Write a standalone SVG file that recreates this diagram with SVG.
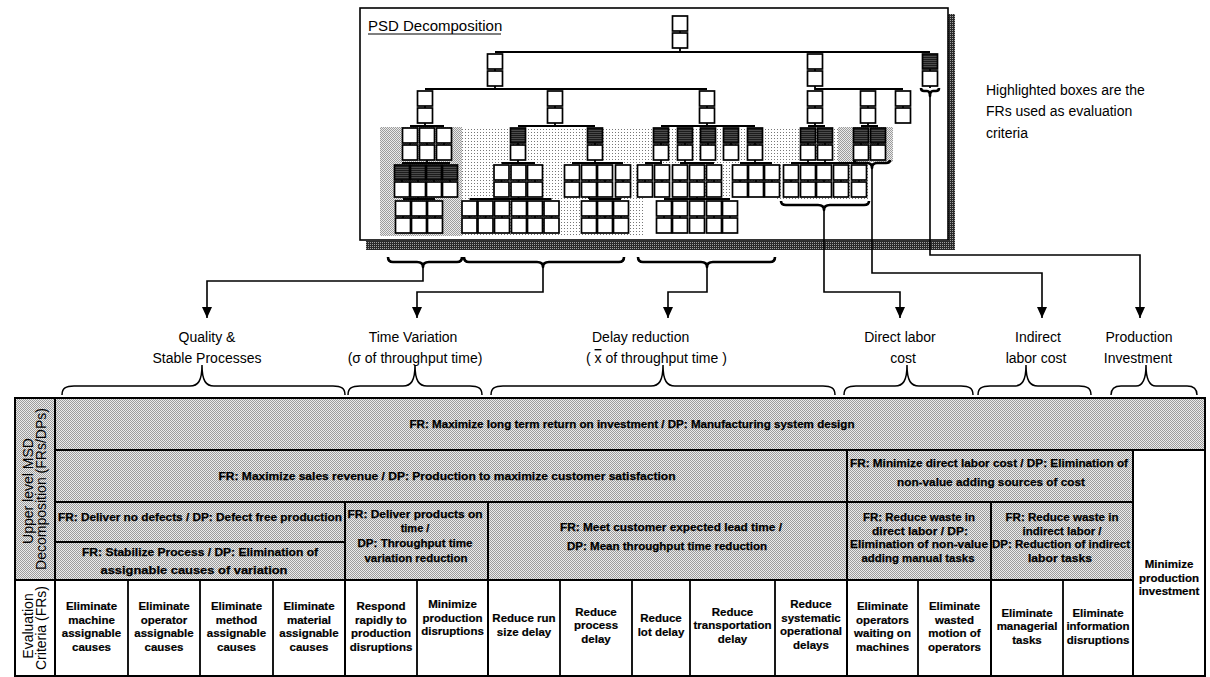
<svg xmlns="http://www.w3.org/2000/svg" width="1210" height="677" viewBox="0 0 1210 677">
<defs>
<style>
text{font-family:"Liberation Sans",Arial,Helvetica,sans-serif;fill:#000}
.lb{font-size:14px}
.ct{text-anchor:middle}
.tb{font-size:11px;font-weight:bold;text-anchor:middle;stroke:#000;stroke-width:0.25}
.ev{font-size:11.5px;font-weight:bold;text-anchor:middle;stroke:#000;stroke-width:0.2}
.bx{fill:#fff;stroke:#000;stroke-width:1.7}
.dk{fill:url(#pDark);stroke:#000;stroke-width:1.7}
.lk{fill:none;stroke:#000;stroke-width:1.8}
.br{fill:none;stroke:#000;stroke-width:2.6;stroke-linejoin:round}
.cn{fill:none;stroke:#000;stroke-width:1.6;marker-end:url(#arr)}
.ub{fill:none;stroke:#000;stroke-width:1.5}
.tl{fill:none;stroke:#000;stroke-width:2}
.tt{fill:none;stroke:#000;stroke-width:1.8}
</style>
<pattern id="pDark" width="2" height="2" patternUnits="userSpaceOnUse"><rect width="2" height="2" fill="#1c1c1c"/><rect width="1" height="1" fill="#7a7a7a"/></pattern>
<pattern id="pGray" width="2" height="2" patternUnits="userSpaceOnUse"><rect width="2" height="2" fill="#ebebeb"/><rect width="1" height="1" fill="#9c9c9c"/><rect x="1" y="1" width="1" height="1" fill="#9c9c9c"/></pattern>
<pattern id="pDots" width="3" height="3" patternUnits="userSpaceOnUse"><rect width="1" height="1" fill="#777"/></pattern>
<pattern id="pShadow" width="2" height="2" patternUnits="userSpaceOnUse"><rect width="2" height="2" fill="#2a2a2a"/><rect width="1" height="1" fill="#a0a0a0"/></pattern>
<marker id="arr" markerUnits="userSpaceOnUse" markerWidth="11" markerHeight="10" refX="11" refY="5" orient="auto"><path d="M0 0L11 5L0 10z" fill="#000"/></marker>
<!-- stacked FR/DP box pair: white/white and highlighted/white -->
<g id="pw"><rect class="bx" x="0" y="0" width="15" height="15"/><rect class="bx" x="0" y="17" width="15" height="15"/><path class="lk" d="M7.5 15v2"/></g>
<g id="pd"><rect class="dk" x="0" y="0" width="15" height="15"/><rect class="bx" x="0" y="17" width="15" height="15"/><path class="lk" d="M7.5 15v2"/></g>
</defs>

<rect width="1210" height="677" fill="#fff"/>

<!-- PSD decomposition frame -->
<g id="psd-frame">
<rect x="366" y="241" width="589" height="9" fill="url(#pShadow)"/>
<rect x="948" y="14" width="7" height="236" fill="url(#pShadow)"/>
<rect x="360" y="8" width="588" height="232" fill="#fff" stroke="#000" stroke-width="1.6"/>
<text x="368" y="31" style="font-size:15px">PSD Decomposition</text>
<path d="M368 34H501" stroke="#000" stroke-width="1.2"/>
</g>

<!-- background tints behind lower levels -->
<g id="psd-tints">
<rect x="380" y="127" width="265" height="109" fill="url(#pDots)"/>
<rect x="628" y="127" width="172" height="71" fill="url(#pDots)"/>
<rect x="776" y="127" width="94" height="73" fill="url(#pDots)"/>
<rect x="380" y="127" width="82" height="109" fill="url(#pGray)"/>
<rect x="838" y="127" width="55" height="35" fill="url(#pGray)"/>
</g>

<!-- tree links -->
<g id="psd-links">
<path class="lk" d="M680 48V52M495 52H930M495 86V89M425 89H707M815 86V89H903M930 86V88"/>
<path class="lk" d="M425 123V126M410 126H444M555 123V126M518 126H595M707 123V126M661 126H755M815 123V126M808 126H825M868 123V126M861 126H878"/>
<path class="lk" d="M427 160V163M402 163H450M518 160V163M501.5 163H535M595 160V163M572 163H623M661 160V163M645 163H662M685 160V163M680 163H714M755 160V163M740 163H772M808 160V163M825 160V163M791 163H859"/>
<path class="lk" d="M418 197V199M403 199H435M518.5 197V199M469.5 199H551.5M589 197V199M589 199H621M697 197V199M664 199H730"/>
<path class="br" d="M781 201q0 4 5 4h32q6 0 6 5q0-5 6-5h34q5 0 5-4"/>
<path class="br" d="M854 160q0 3 4 3h9q5 0 5 5q0-5 5-5h9q4 0 4-3"/>
<path class="br" d="M921 88q0 3 3 3h3q3 0 3 5q0-5 3-5h3q3 0 3-3"/>
</g>

<!-- tree nodes -->
<g id="psd-root"><use href="#pw" x="672.5" y="16"/></g>
<g id="psd-level1">
<use href="#pw" x="487.5" y="54"/><use href="#pw" x="807.5" y="54"/><use href="#pd" x="922.5" y="54"/>
</g>
<g id="psd-level2">
<use href="#pw" x="417.5" y="91"/><use href="#pw" x="547.5" y="91"/><use href="#pw" x="699.5" y="91"/>
<use href="#pw" x="807.5" y="91"/><use href="#pw" x="860.5" y="91"/><use href="#pw" x="895.5" y="91"/>
</g>
<g id="psd-level3">
<use href="#pw" x="402.5" y="128"/><use href="#pw" x="419.5" y="128"/><use href="#pw" x="436.5" y="128"/>
<use href="#pd" x="510.5" y="128"/><use href="#pd" x="587.5" y="128"/>
<use href="#pd" x="653.5" y="128"/><use href="#pd" x="677.5" y="128"/><use href="#pd" x="700.5" y="128"/><use href="#pd" x="723.5" y="128"/><use href="#pd" x="747.5" y="128"/>
<use href="#pd" x="800.5" y="128"/><use href="#pd" x="817.5" y="128"/>
<use href="#pd" x="853.5" y="128"/><use href="#pd" x="870.5" y="128"/>
</g>
<g id="psd-level4">
<use href="#pd" x="394.5" y="165"/><use href="#pd" x="410.5" y="165"/><use href="#pd" x="426.5" y="165"/><use href="#pd" x="442.5" y="165"/>
<use href="#pw" x="494" y="165"/><use href="#pw" x="511" y="165"/><use href="#pw" x="527.5" y="165"/>
<use href="#pw" x="564.5" y="165"/><use href="#pw" x="581.5" y="165"/><use href="#pw" x="597.5" y="165"/><use href="#pw" x="615.5" y="165"/>
<use href="#pw" x="637.5" y="165"/><use href="#pw" x="654.5" y="165"/>
<use href="#pw" x="672.5" y="165"/><use href="#pw" x="689.5" y="165"/><use href="#pw" x="706.5" y="165"/>
<use href="#pw" x="732.5" y="165"/><use href="#pw" x="748.5" y="165"/><use href="#pw" x="764.5" y="165"/>
<use href="#pw" x="783.5" y="165"/><use href="#pw" x="800.5" y="165"/><use href="#pw" x="816.5" y="165"/><use href="#pw" x="833.5" y="165"/><use href="#pw" x="851.5" y="165"/>
</g>
<g id="psd-level5">
<use href="#pw" x="395.5" y="201"/><use href="#pw" x="411.5" y="201"/><use href="#pw" x="427.5" y="201"/>
<use href="#pw" x="462" y="201"/><use href="#pw" x="478" y="201"/><use href="#pw" x="494.5" y="201"/><use href="#pw" x="511.5" y="201"/><use href="#pw" x="527.5" y="201"/><use href="#pw" x="544" y="201"/>
<use href="#pw" x="581.5" y="201"/><use href="#pw" x="597.5" y="201"/><use href="#pw" x="613.5" y="201"/>
<use href="#pw" x="656.5" y="201"/><use href="#pw" x="672.5" y="201"/><use href="#pw" x="689.5" y="201"/><use href="#pw" x="706.5" y="201"/><use href="#pw" x="722.5" y="201"/>
</g>

<g id="note">
<text class="lb" x="986" y="95">Highlighted boxes are the</text>
<text class="lb" x="986" y="116">FRs used as evaluation</text>
<text class="lb" x="986" y="138">criteria</text>
</g>

<!-- group braces and routing to criteria groups -->
<g id="connectors">
<path class="br" d="M388 257q0 5 5 5h24q6 0 6 5q0-5 6-5h28q5 0 5-5"/>
<path class="br" d="M464 257q0 5 5 5h68q6 0 6 5q0-5 6-5h70q5 0 5-5"/>
<path class="br" d="M638 257q0 5 5 5h58q6 0 6 5q0-5 6-5h57q5 0 5-5"/>
<path class="cn" d="M423 267V281H207V318"/>
<path class="cn" d="M543 267V292H417V318"/>
<path class="cn" d="M707 267V292H668V318"/>
<path class="cn" d="M824 210V292H900V318"/>
<path class="cn" d="M872 168V273H1042V318"/>
<path class="cn" d="M930 96V255H1140V318"/>
</g>

<g id="criteria-groups">
<text class="lb ct" x="207" y="342">Quality &amp;</text>
<text class="lb ct" x="207" y="363">Stable Processes</text>
<text class="lb ct" x="413" y="342">Time Variation</text>
<text class="lb ct" x="415" y="363">(σ of throughput time)</text>
<text class="lb" x="592" y="342">Delay reduction</text>
<text class="lb" x="586" y="363">( <tspan text-decoration="overline">x</tspan> of throughput time )</text>
<text class="lb ct" x="900" y="342">Direct labor</text>
<text class="lb ct" x="903" y="363">cost</text>
<text class="lb ct" x="1038" y="342">Indirect</text>
<text class="lb ct" x="1036" y="363">labor cost</text>
<text class="lb ct" x="1139" y="342">Production</text>
<text class="lb ct" x="1138" y="363">Investment</text>
</g>

<g id="table-braces">
<path class="ub" d="M62 395c0-7 4-9 12-9h116c8 0 12-5 12-21c0 16 4 21 12 21h119c8 0 12 2 12 9"/>
<path class="ub" d="M348 395c0-7 4-9 12-9h43c8 0 12-5 12-21c0 16 4 21 12 21h43c8 0 12 2 12 9"/>
<path class="ub" d="M491 395c0-7 4-9 12-9h148c8 0 12-5 12-21c0 16 4 21 12 21h148c8 0 12 2 12 9"/>
<path class="ub" d="M844 395c0-7 4-9 12-9h39c8 0 12-5 12-21c0 16 4 21 12 21h42c8 0 12 2 12 9"/>
<path class="ub" d="M978 395c0-7 4-9 12-9h24c8 0 12-5 12-21c0 16 4 21 12 21h41c8 0 12 2 12 9"/>
<path class="ub" d="M1111 395c0-7 4-9 10-9h15c6 0 10-5 10-21c0 16 4 21 10 21h31c6 0 10 2 10 9"/>
</g>

<!-- MSD table -->
<g id="table">
<rect x="15" y="398" width="1190" height="52" fill="url(#pGray)"/>
<rect x="15" y="450" width="1118" height="130" fill="url(#pGray)"/>
<path class="tl" d="M15 398H1205V676H15ZM55 398V676M55 450H1205M55 502H1133M55 542H345M15 580H1133M345 502V676M488 502V676M847 450V676M991 502V676M1133 450V676"/>
<path class="tt" d="M128 580V676M200 580V676M273 580V676M417 580V676M560 580V676M632 580V676M690 580V676M775 580V676M918 580V676M1063 580V676"/>
</g>

<g id="table-labels">
<text class="lb ct" transform="translate(33 491) rotate(-90)">Upper level MSD</text>
<text class="lb ct" transform="translate(46 489) rotate(-90)">Decomposition (FRs/DPs)</text>
<text class="lb ct" transform="translate(33 626) rotate(-90)">Evaluation</text>
<text class="lb ct" transform="translate(46 628) rotate(-90)">Criteria (FRs)</text>
</g>

<g id="msd-frs">
<text class="tb" x="632" y="428" textLength="445" lengthAdjust="spacingAndGlyphs">FR: Maximize long term return on investment / DP: Manufacturing system design</text>
<text class="tb" x="447" y="480" textLength="457" lengthAdjust="spacingAndGlyphs">FR: Maximize sales revenue / DP: Production to maximize customer satisfaction</text>
<text class="tb" x="989" y="467" textLength="278" lengthAdjust="spacingAndGlyphs">FR: Minimize direct labor cost / DP: Elimination of</text>
<text class="tb" x="991" y="486" textLength="188" lengthAdjust="spacingAndGlyphs">non-value adding sources of cost</text>
<text class="tb" x="200" y="521" textLength="284" lengthAdjust="spacingAndGlyphs">FR: Deliver no defects / DP: Defect free production</text>
<text class="tb" x="200" y="556" textLength="236" lengthAdjust="spacingAndGlyphs">FR: Stabilize Process / DP: Elimination of</text>
<text class="tb" x="194" y="574" textLength="187" lengthAdjust="spacingAndGlyphs">assignable causes of variation</text>
<text class="tb" x="415" y="518" textLength="135" lengthAdjust="spacingAndGlyphs">FR: Deliver products on</text>
<text class="tb" x="415" y="532">time /</text>
<text class="tb" x="415" y="547" textLength="115" lengthAdjust="spacingAndGlyphs">DP: Throughput time</text>
<text class="tb" x="416" y="562" textLength="103" lengthAdjust="spacingAndGlyphs">variation reduction</text>
<text class="tb" x="671" y="531" textLength="222" lengthAdjust="spacingAndGlyphs">FR: Meet customer expected lead time /</text>
<text class="tb" x="667" y="550" textLength="200" lengthAdjust="spacingAndGlyphs">DP: Mean throughput time reduction</text>
<text class="tb" x="919" y="521" textLength="112" lengthAdjust="spacingAndGlyphs">FR: Reduce waste in</text>
<text class="tb" x="920" y="534.5" textLength="96" lengthAdjust="spacingAndGlyphs">direct labor / DP:</text>
<text class="tb" x="919" y="548" textLength="138" lengthAdjust="spacingAndGlyphs">Elimination of non-value</text>
<text class="tb" x="918" y="561.5" textLength="113" lengthAdjust="spacingAndGlyphs">adding manual tasks</text>
<text class="tb" x="1062" y="521" textLength="113" lengthAdjust="spacingAndGlyphs">FR: Reduce waste in</text>
<text class="tb" x="1062" y="534.5" textLength="79" lengthAdjust="spacingAndGlyphs">indirect labor /</text>
<text class="tb" x="1061" y="548" textLength="138" lengthAdjust="spacingAndGlyphs">DP: Reduction of indirect</text>
<text class="tb" x="1060" y="561.5" textLength="64" lengthAdjust="spacingAndGlyphs">labor tasks</text>
</g>

<g id="evaluation-frs">
<text class="ev" x="91.5" y="610"><tspan x="91.5">Eliminate</tspan><tspan x="91.5" dy="13.6">machine</tspan><tspan x="91.5" dy="13.6">assignable</tspan><tspan x="91.5" dy="13.6">causes</tspan></text>
<text class="ev" x="164" y="610"><tspan x="164">Eliminate</tspan><tspan x="164" dy="13.6">operator</tspan><tspan x="164" dy="13.6">assignable</tspan><tspan x="164" dy="13.6">causes</tspan></text>
<text class="ev" x="236.5" y="610"><tspan x="236.5">Eliminate</tspan><tspan x="236.5" dy="13.6">method</tspan><tspan x="236.5" dy="13.6">assignable</tspan><tspan x="236.5" dy="13.6">causes</tspan></text>
<text class="ev" x="309" y="610"><tspan x="309">Eliminate</tspan><tspan x="309" dy="13.6">material</tspan><tspan x="309" dy="13.6">assignable</tspan><tspan x="309" dy="13.6">causes</tspan></text>
<text class="ev" x="381" y="610"><tspan x="381">Respond</tspan><tspan x="381" dy="13.6">rapidly to</tspan><tspan x="381" dy="13.6">production</tspan><tspan x="381" dy="13.6">disruptions</tspan></text>
<text class="ev" x="452.5" y="608"><tspan x="452.5">Minimize</tspan><tspan x="452.5" dy="13.6">production</tspan><tspan x="452.5" dy="13.6">disruptions</tspan></text>
<text class="ev" x="524" y="622"><tspan x="524">Reduce run</tspan><tspan x="524" dy="13.6">size delay</tspan></text>
<text class="ev" x="596" y="615.5"><tspan x="596">Reduce</tspan><tspan x="596" dy="13.6">process</tspan><tspan x="596" dy="13.6">delay</tspan></text>
<text class="ev" x="661" y="622"><tspan x="661">Reduce</tspan><tspan x="661" dy="13.6">lot delay</tspan></text>
<text class="ev" x="732.5" y="615.5"><tspan x="732.5">Reduce</tspan><tspan x="732.5" dy="13.6">transportation</tspan><tspan x="732.5" dy="13.6">delay</tspan></text>
<text class="ev" x="811" y="608"><tspan x="811">Reduce</tspan><tspan x="811" dy="13.6">systematic</tspan><tspan x="811" dy="13.6">operational</tspan><tspan x="811" dy="13.6">delays</tspan></text>
<text class="ev" x="882.5" y="610"><tspan x="882.5">Eliminate</tspan><tspan x="882.5" dy="13.6">operators</tspan><tspan x="882.5" dy="13.6">waiting on</tspan><tspan x="882.5" dy="13.6">machines</tspan></text>
<text class="ev" x="954.5" y="610"><tspan x="954.5">Eliminate</tspan><tspan x="954.5" dy="13.6">wasted</tspan><tspan x="954.5" dy="13.6">motion of</tspan><tspan x="954.5" dy="13.6">operators</tspan></text>
<text class="ev" x="1027" y="616.5"><tspan x="1027">Eliminate</tspan><tspan x="1027" dy="13.6">managerial</tspan><tspan x="1027" dy="13.6">tasks</tspan></text>
<text class="ev" x="1098" y="616.5"><tspan x="1098">Eliminate</tspan><tspan x="1098" dy="13.6">information</tspan><tspan x="1098" dy="13.6">disruptions</tspan></text>
<text class="ev" x="1169" y="568"><tspan x="1169">Minimize</tspan><tspan x="1169" dy="13.6">production</tspan><tspan x="1169" dy="13.6">investment</tspan></text>
</g>
</svg>
